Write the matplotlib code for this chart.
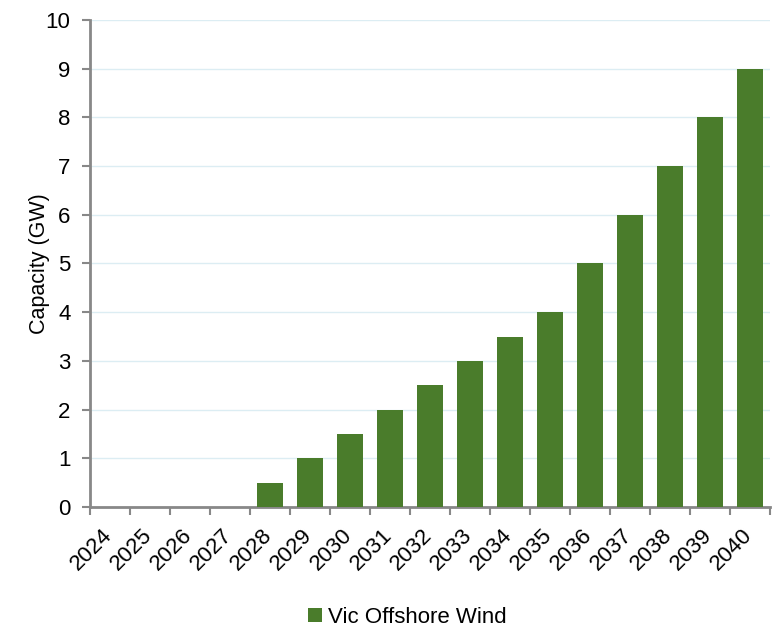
import matplotlib
matplotlib.use('Agg')
import matplotlib.pyplot as plt
from matplotlib.transforms import ScaledTranslation
import numpy as np

plt.rcParams['font.family'] = ['Liberation Sans', 'DejaVu Sans']

years = ['2024', '2025', '2026', '2027', '2028', '2029', '2030', '2031', '2032',
         '2033', '2034', '2035', '2036', '2037', '2038', '2039', '2040']
capacity = [0, 0, 0, 0, 0.5, 1, 1.5, 2, 2.5, 3, 3.5, 4, 5, 6, 7, 8, 9]

fig = plt.figure(figsize=(7.75, 6.28), dpi=100)
ax = fig.add_axes([0.1161, 0.1927, 0.8774, 0.7755])

x = np.arange(len(years))
ax.bar(x, capacity, width=0.67, color='#4a7c2b', label='Vic Offshore Wind', zorder=3)

ax.set_xlim(-0.5, len(years) - 0.5)
ax.set_ylim(0, 10)
ax.set_yticks(range(0, 11))
ax.tick_params(axis='y', labelsize=16, length=6, width=1.5, color='#888888', pad=8)

# ticks on category boundaries, labels centred on bars
ax.set_xticks(np.arange(-0.5, len(years)), minor=False)
ax.set_xticklabels([])
ax.set_xticks(x, minor=True)
ax.set_xticklabels(years, minor=True, rotation=45, ha='right', rotation_mode='anchor', fontsize=16)
ax.tick_params(axis='x', which='major', length=6, width=1.5, color='#888888')
ax.tick_params(axis='x', which='minor', length=0, pad=13)
shift = ScaledTranslation(-0.08, 0, fig.dpi_scale_trans)
for lab in ax.get_xticklabels(minor=True):
    lab.set_transform(lab.get_transform() + shift)

ax.grid(axis='y', color='#dcedf3', linewidth=1, zorder=0)
for s in ['top', 'right']:
    ax.spines[s].set_visible(False)
for s in ['left', 'bottom']:
    ax.spines[s].set_color('#888888')
    ax.spines[s].set_linewidth(2)

ax.set_ylabel('Capacity (GW)', fontsize=15.5, labelpad=-3)

fig.legend(loc='center', bbox_to_anchor=(0.526, 0.0175), frameon=False, fontsize=16,
           handlelength=0.6, handleheight=0.6, handletextpad=0.3)

fig.savefig('out.png', dpi=100)
